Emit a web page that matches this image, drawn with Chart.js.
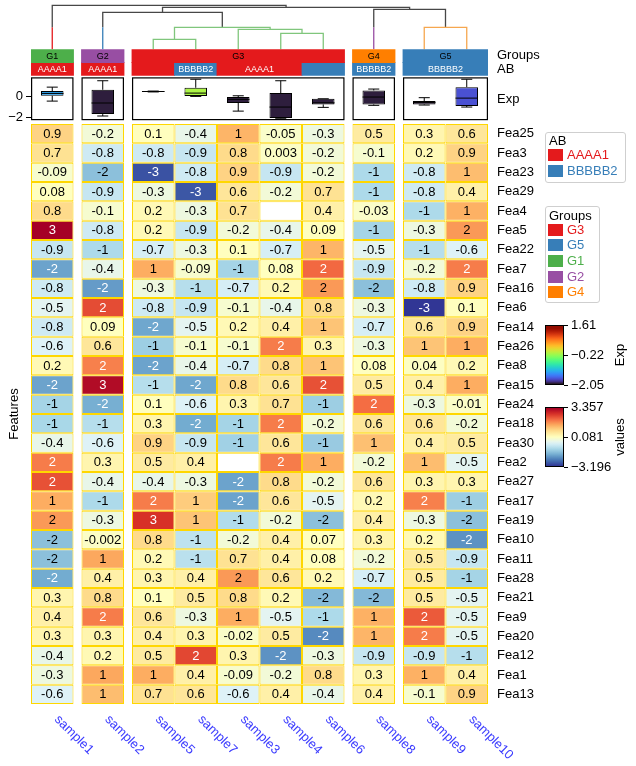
<!DOCTYPE html>
<html>
<head>
<meta charset="utf-8">
<title>Clustered heatmap</title>
<script src="https://cdn.jsdelivr.net/npm/chart.js@4.4.1/dist/chart.umd.min.js"></script>
<style>
html,body{margin:0;padding:0;background:#fff;}
#wrap{position:relative;width:636px;height:766px;overflow:hidden;font-family:"Liberation Sans",Arial,Helvetica,sans-serif;color:#000;}
#wrap canvas{position:absolute;left:0;top:0;}
.legend{position:absolute;border:1px solid #cfcfcf;border-radius:3px;background:#fff;box-sizing:border-box;}
.legend .ttl{position:absolute;left:3px;font-size:13px;line-height:14px;color:#000;white-space:nowrap;}
.legend .sw{position:absolute;left:2px;width:15px;height:12px;}
.legend .lab{position:absolute;left:21px;font-size:13px;line-height:14px;white-space:nowrap;}
.cbar{position:absolute;box-sizing:border-box;border:1px solid #000;}
.cbtick{position:absolute;width:4px;height:1px;background:#000;}
.cblab{position:absolute;font-size:13px;line-height:14px;white-space:nowrap;transform:translateY(-50%);}
.cbname{position:absolute;font-size:13px;line-height:14px;white-space:nowrap;transform:translate(-50%,-50%) rotate(-90deg);}
</style>
</head>
<body>
<div id="wrap">
<canvas id="dendro" width="636" height="766"></canvas>
<canvas id="annot" width="636" height="766"></canvas>
<canvas id="boxes" width="636" height="766"></canvas>
<canvas id="heat" width="636" height="766"></canvas>
</div>
<script>
// ---------------- DATA ----------------
const samples = ['sample1','sample2','sample5','sample7','sample3','sample4','sample6','sample8','sample9','sample10'];
const sampleGroups = ['G1','G2','G3','G3','G3','G3','G3','G4','G5','G5'];
const sampleAB = ['AAAA1','AAAA1','AAAA1','BBBBB2','AAAA1','AAAA1','BBBBB2','BBBBB2','BBBBB2','BBBBB2'];
const abUnlabeled = ['sample5','sample6'];
const groupOrder = ['G1','G2','G3','G4','G5'];
const groupLegendOrder = ['G3','G5','G1','G2','G4'];
const abLevels = ['AAAA1','BBBBB2'];

const features = ['Fea25','Fea3','Fea23','Fea29','Fea4','Fea5','Fea22','Fea7','Fea16','Fea6',
  'Fea14','Fea26','Fea8','Fea15','Fea24','Fea18','Fea30','Fea2','Fea27','Fea17',
  'Fea19','Fea10','Fea11','Fea28','Fea21','Fea9','Fea20','Fea12','Fea1','Fea13'];

// heatmap values, one array per sample (rows in feature order)
const valsSample1 = [0.9,0.7,-0.09,0.08,0.8,3.357,-0.9,-2.0,-0.8,-0.5,-0.8,-0.6,0.2,-2.0,-1.3,-1.25,-0.4,1.9,2.35,1.4,1.6,-1.6,-1.6,-1.9,0.3,0.4,0.3,-0.4,-0.3,-0.6];
const valsSample2 = [-0.2,-0.8,-1.6,-0.9,-0.1,-0.8,-1.2,-0.4,-2.1,2.4,0.09,0.6,1.85,3.2,-1.85,-1.1,-0.6,0.3,-0.4,-1.2,-0.3,-0.002,1.45,0.4,0.8,1.9,0.3,0.2,1.45,1.2];
const valsSample5 = [0.1,-0.8,-2.9,-0.3,0.2,0.2,-0.7,1.4,-0.3,-0.8,-1.95,-1.4,-2.0,-1.1,0.1,0.3,0.9,0.5,-0.4,1.9,2.7,0.8,0.2,0.3,0.1,0.6,0.4,0.5,1.4,0.7];
const valsSample7 = [-0.4,-0.9,-0.8,-2.85,-0.3,-0.9,-0.3,-0.09,-1.1,-0.9,-0.5,-0.1,-0.4,-1.95,-0.6,-1.9,-0.9,0.4,-0.3,1.0,1.1,-1.0,-1.05,0.4,0.5,-0.3,0.3,2.45,0.4,0.6];
const valsSample3 = [1.3,0.8,0.9,0.6,0.7,-0.2,0.1,-1.3,-0.7,-0.1,0.2,-0.1,-0.7,0.8,0.3,-1.3,-1.35,null,-2.0,-2.0,-1.15,-0.2,0.7,1.6,0.8,1.4,-0.02,0.3,-0.09,-0.6];
const valsSample4 = [-0.05,0.003,-0.9,-0.2,null,-0.4,-0.7,0.08,0.2,-0.4,0.4,1.9,0.8,0.6,0.7,1.9,0.6,1.9,0.8,0.6,-0.2,0.4,0.4,0.6,0.2,-0.5,0.5,-2.2,-0.2,0.4];
const valsSample6 = [-0.3,-0.2,-0.2,0.7,0.4,0.09,1.3,2.1,1.6,0.8,1.1,0.3,1.1,2.35,-1.4,-0.2,-1.45,1.4,-0.2,-0.5,-1.6,0.07,0.08,0.2,-1.7,-1.2,-2.3,-0.3,0.8,-0.4];
const valsSample8 = [0.5,-0.1,-1.2,-1.2,-0.03,-1.3,-0.5,-0.9,-1.6,-0.3,-0.7,-0.3,0.08,0.5,2.05,0.6,1.15,-0.2,0.6,0.2,0.4,0.3,-0.2,-0.7,-1.7,1.35,1.3,-0.9,0.3,0.4];
const valsSample9 = [0.3,0.2,-0.8,-0.8,-1.2,-0.3,-1.1,-0.2,-0.8,-3.196,0.6,1.1,0.04,0.4,-0.3,0.6,0.4,1.2,0.3,1.85,-0.3,0.2,0.5,0.5,0.5,2.25,1.9,-0.9,1.35,-0.1];
const valsSample10 = [0.6,0.9,1.2,0.4,1.35,1.6,-0.6,1.9,0.9,0.1,0.9,1.4,0.2,1.4,-0.01,-0.2,0.5,-0.5,0.3,-1.4,-1.6,-2.2,-0.9,-1.3,-0.5,-0.5,-0.5,-1.1,0.4,0.9];
const heatColumns = [valsSample1,valsSample2,valsSample5,valsSample7,valsSample3,valsSample4,valsSample6,valsSample8,valsSample9,valsSample10];

// Exp boxplot annotation (per sample)
const expMin = [-0.44,-1.84,0.42,0.0,-1.38,-2.05,-1.03,-0.84,-0.81,-1.0];
const expQ1  = [0.06,-1.66,0.42,0.03,-0.62,-2.02,-0.75,-0.75,-0.75,-0.9];
const expMed = [0.28,-0.62,0.46,0.31,-0.28,-1.0,-0.6,-0.06,-0.56,-0.16];
const expQ3  = [0.5,0.62,0.5,0.81,-0.06,0.31,-0.22,0.56,-0.44,0.87];
const expMax = [0.87,1.47,0.5,1.61,0.06,1.47,-0.22,0.69,-0.12,1.61];
const expColorValue = [-1.28,-2.01,-2.01,-0.12,-2.01,-2.01,-2.01,-2.01,-2.01,-1.72];
const expTicks = [-2, 0];

// dendrogram merges: [childA, childB, height]; ids 0-9 are leaves, 10+ merges in order
const dendroMerges = [[2,3,1.0],[5,6,1.6],[4,11,2.0],[10,12,2.2],[8,9,2.2],[1,13,3.7],[7,14,4.0],[15,16,4.2],[0,17,4.4]];
const groupDendroTop = 2.2;

// ---------------- STYLE ----------------
const FONT = '"Liberation Sans", Arial, Helvetica, sans-serif';
const groupColors = {G1:'#4daf4a',G2:'#984ea3',G3:'#e41a1c',G4:'#ff7f00',G5:'#377eb8'};
const abColors = {AAAA1:'#e41a1c',BBBBB2:'#377eb8'};
const dendroColors = {G1:'#e41a1c',G2:'#377eb8',G3:'#80c67c',G4:'#984ea3',G5:'#f6a74f'};
const linkGray = '#474747';
const gridGold = '#ffd700';
const colGap = 0.188;
const AREA = {left:31, right:488, W:636, H:766};

Chart.defaults.font.family = FONT;
Chart.defaults.font.size = 13;
Chart.defaults.color = '#000';
Chart.defaults.animation = false;
Chart.defaults.plugins.legend.display = false;
Chart.defaults.plugins.tooltip.enabled = false;

// ---------------- helpers ----------------
const colLeft = samples.map((s,i)=> i + groupOrder.indexOf(sampleGroups[i]) * colGap);
const colCenter = colLeft.map(v => v + 0.5);
const xMax = samples.length + (groupOrder.length - 1) * colGap;

function hexToRgb(h){ h=h.replace('#',''); return [parseInt(h.substr(0,2),16),parseInt(h.substr(2,2),16),parseInt(h.substr(4,2),16)]; }
const rdylbuStops = ['#313695','#4575b4','#74add1','#abd9e9','#e0f3f8','#ffffbf','#fee090','#fdae61','#f46d43','#d73027','#a50026'].map(hexToRgb);
function clamp01(t){ return Math.max(0, Math.min(1, t)); }
function rdylbuR(t){
  t = clamp01(t); const p = t*10; const i = Math.min(9, Math.floor(p)); const f = p - i;
  const a = rdylbuStops[i], b = rdylbuStops[i+1];
  return [0,1,2].map(k => Math.round(a[k] + (b[k]-a[k])*f));
}
function turbo(t){
  t = clamp01(t);
  const r = 0.13572138 + t*(4.61539260 + t*(-42.66032258 + t*(132.13108234 + t*(-152.94239396 + t*59.28637943))));
  const g = 0.09140261 + t*(2.19418839 + t*(4.84296658 + t*(-14.18503333 + t*(4.27729857 + t*2.82956604))));
  const b = 0.10667330 + t*(12.64194608 + t*(-60.58204836 + t*(110.36276771 + t*(-89.90310912 + t*27.34824973))));
  return [r,g,b].map(v => Math.round(clamp01(v)*255));
}
const rgbStr = c => `rgb(${c[0]},${c[1]},${c[2]})`;

const allVals = heatColumns.flat().filter(v => v !== null);
const vMin = Math.min(...allVals), vMax = Math.max(...allVals);
const heatRgb = v => rdylbuR((v - vMin) / (vMax - vMin));
const expLo = Math.min(...expMin), expHi = Math.max(...expMax);
const expRgb = v => turbo((v - expLo) / (expHi - expLo));
const fmtCell = v => Number(v).toPrecision(1);
const textColorFor = v => { const c = heatRgb(v); return (0.299*c[0]+0.587*c[1]+0.114*c[2]) < 168 ? '#ffffff' : '#000000'; };
const minus = s => s.replace('-', '\u2212');

function runsOf(values){
  const out = [];
  samples.forEach((s,i) => {
    const last = out[out.length-1];
    if (last && last.value === values[i] && sampleGroups[last.end] === sampleGroups[i]) last.end = i;
    else out.push({value: values[i], start: i, end: i});
  });
  return out;
}
const groupRuns = runsOf(sampleGroups);
const abRuns = runsOf(sampleAB);

// ---------------- Dendrogram ----------------
const nodes = samples.map((s,i) => ({x: colCenter[i], h: 0, leaves: [i]}));
dendroMerges.forEach(([a,b,h]) => nodes.push({x:(nodes[a].x+nodes[b].x)/2, h, leaves: nodes[a].leaves.concat(nodes[b].leaves), a, b}));
const nodeGroup = n => { const g = sampleGroups[n.leaves[0]]; return n.leaves.every(l => sampleGroups[l] === g) ? g : null; };
const segs = {};
const addPts = (color, pts) => { (segs[color] = segs[color] || []).push(...pts, {x:null, y:null}); };
nodes.forEach(n => {
  if (n.a === undefined) return;
  const g = nodeGroup(n);
  const color = g ? dendroColors[g] : linkGray;
  const ends = [n.a, n.b].map(ci => {
    const c = nodes[ci];
    if (!g && c.a === undefined) {
      addPts(dendroColors[sampleGroups[c.leaves[0]]], [{x:c.x, y:0},{x:c.x, y:groupDendroTop}]);
      return {x:c.x, y:groupDendroTop};
    }
    return {x:c.x, y:c.h};
  });
  addPts(color, [ends[0], {x:ends[0].x, y:n.h}, {x:ends[1].x, y:n.h}, ends[1]]);
});
const rootH = Math.max(...dendroMerges.map(m => m[2]));
new Chart(document.getElementById('dendro'), {
  type: 'scatter',
  data: { datasets: Object.keys(segs).map(c => ({data: segs[c], showLine: true, borderColor: c, borderWidth: 1.3, pointRadius: 0, clip: false, spanGaps: false, borderJoinStyle: 'miter'})) },
  options: {
    responsive: false,
    layout: {padding: {left: AREA.left, right: AREA.W - AREA.right, top: 5.3, bottom: AREA.H - 49.3}},
    scales: {
      x: {type: 'linear', min: 0, max: xMax, display: false},
      y: {type: 'linear', min: 0, max: rootH, display: false}
    }
  }
});

// ---------------- Annotation rows ----------------
const annotText = {
  id: 'annotText',
  afterDatasetsDraw(chart){
    const ctx = chart.ctx; ctx.save();
    ctx.font = '9px ' + FONT; ctx.textAlign = 'center'; ctx.textBaseline = 'middle';
    chart.data.datasets.forEach((ds, di) => {
      chart.getDatasetMeta(di).data.forEach((el, i) => {
        const t = ds.texts[i]; if (!t) return;
        const p = el.getProps(['x','y','base'], true);
        ctx.fillStyle = ds.textColor;
        ctx.fillText(t, (p.x + p.base)/2, p.y + 0.5);
      });
    });
    ctx.restore();
  }
};
const rightAxis = {
  type: 'category', position: 'right', offset: true,
  grid: {display: false, drawTicks: false}, border: {display: false},
  ticks: {padding: 9, color: '#000', font: {size: 13}, autoSkip: false},
  afterFit(s){ s.width = AREA.W - AREA.right; }
};
new Chart(document.getElementById('annot'), {
  type: 'bar',
  data: {
    labels: ['Groups','AB'],
    datasets: [
      {data: groupRuns.map(r => ({y:'Groups', x:[colLeft[r.start], colLeft[r.end]+1]})),
       backgroundColor: groupRuns.map(r => groupColors[r.value]), texts: groupRuns.map(r => r.value), textColor: '#000',
       grouped: false, barPercentage: 1, categoryPercentage: 1, borderWidth: 0, inflateAmount: 0.4},
      {data: abRuns.map(r => ({y:'AB', x:[colLeft[r.start], colLeft[r.end]+1]})),
       backgroundColor: abRuns.map(r => abColors[r.value]), texts: abRuns.map(r => abUnlabeled.includes(samples[r.start]) ? '' : r.value), textColor: '#fff',
       grouped: false, barPercentage: 1, categoryPercentage: 1, borderWidth: 0, inflateAmount: 0.4}
    ]
  },
  options: {
    indexAxis: 'y', responsive: false,
    layout: {padding: {left: AREA.left, right: 0, top: 49.3, bottom: AREA.H - 75.7}},
    scales: { x: {type: 'linear', min: 0, max: xMax, display: false, offset: false}, y: rightAxis }
  },
  plugins: [annotText]
});

// ---------------- Exp boxplots ----------------
const capHalf = 0.13, boxHalf = 0.265;
const whiskerPts = [], medianPts = [];
samples.forEach((s,i) => {
  const c = colCenter[i], N = {x:null, y:null};
  whiskerPts.push({x:c,y:expMin[i]},{x:c,y:expQ1[i]},N,{x:c,y:expQ3[i]},{x:c,y:expMax[i]},N,
    {x:c-capHalf,y:expMin[i]},{x:c+capHalf,y:expMin[i]},N,{x:c-capHalf,y:expMax[i]},{x:c+capHalf,y:expMax[i]},N);
  medianPts.push({x:c-boxHalf,y:expMed[i]},{x:c+boxHalf,y:expMed[i]},N);
});
const expSpan = expHi - expLo;
const boxFrames = {
  id: 'boxFrames',
  afterDraw(chart){
    const ctx = chart.ctx, xs = chart.scales.x, a = chart.chartArea;
    ctx.save(); ctx.strokeStyle = '#000'; ctx.lineWidth = 1.2;
    groupRuns.forEach(r => {
      const x0 = xs.getPixelForValue(colLeft[r.start]), x1 = xs.getPixelForValue(colLeft[r.end] + 1);
      ctx.strokeRect(x0 + 0.6, a.top + 0.6, x1 - x0 - 1.2, a.bottom - a.top - 1.2);
    });
    ctx.font = '13px ' + FONT; ctx.fillStyle = '#000'; ctx.textAlign = 'left'; ctx.textBaseline = 'middle';
    ctx.fillText('Exp', a.right + 9, (a.top + a.bottom)/2 + 1);
    ctx.restore();
  }
};
new Chart(document.getElementById('boxes'), {
  type: 'bar',
  data: { datasets: [
    {type: 'line', data: medianPts, borderColor: '#000', borderWidth: 1, pointRadius: 0, order: 0, clip: false, spanGaps: false},
    {type: 'bar', data: samples.map((s,i) => ({x: colCenter[i], y: [expQ1[i], expQ3[i]]})),
     backgroundColor: expColorValue.map(v => rgbStr(expRgb(v))), borderColor: '#000', borderWidth: 1, borderSkipped: false,
     barPercentage: boxHalf*2, categoryPercentage: 1, order: 1},
    {type: 'line', data: whiskerPts, borderColor: '#000', borderWidth: 1, pointRadius: 0, order: 2, clip: false, spanGaps: false}
  ]},
  options: {
    responsive: false,
    layout: {padding: {left: 0, right: AREA.W - AREA.right, top: 77.3, bottom: AREA.H - 120.2}},
    scales: {
      x: {type: 'linear', min: 0, max: xMax, display: false, offset: false,
          afterBuildTicks(a){ a.ticks = colCenter.map(v => ({value: v})); }},
      y: {type: 'linear', position: 'left', min: expLo - 0.05*expSpan, max: expHi + 0.05*expSpan,
          afterBuildTicks(a){ a.ticks = expTicks.map(v => ({value: v})); },
          ticks: {padding: 3, color: '#000', font: {size: 13}, callback: v => minus(String(v))},
          grid: {drawOnChartArea: false, drawTicks: true, tickLength: 5, color: '#000', lineWidth: 1},
          border: {display: false},
          afterFit(s){ s.width = AREA.left; }}
    }
  },
  plugins: [boxFrames]
});

// ---------------- Heatmap ----------------
const heatExtras = {
  id: 'heatExtras',
  afterDatasetsDraw(chart){
    const ctx = chart.ctx; ctx.save();
    ctx.font = '13px ' + FONT; ctx.textAlign = 'center'; ctx.textBaseline = 'middle';
    chart.data.datasets.forEach((ds, di) => {
      chart.getDatasetMeta(di).data.forEach((el, ri) => {
        const v = ds.values[ri]; if (v === null) return;
        const p = el.getProps(['x','y','base'], true);
        ctx.fillStyle = textColorFor(v);
        ctx.fillText(fmtCell(v), (p.x + p.base)/2, p.y + 0.5);
      });
    });
    ctx.restore();
  },
  afterDraw(chart){
    const ctx = chart.ctx, xs = chart.scales.x, a = chart.chartArea;
    ctx.save();
    ctx.font = '13px ' + FONT; ctx.fillStyle = '#3b3bff'; ctx.textAlign = 'left'; ctx.textBaseline = 'middle';
    samples.forEach((s,i) => {
      ctx.save(); ctx.translate(xs.getPixelForValue(colCenter[i]) + 4.3, a.bottom + 13.5); ctx.rotate(Math.PI/4);
      ctx.fillText(s, 0, 0); ctx.restore();
    });
    ctx.fillStyle = '#000'; ctx.textAlign = 'center';
    ctx.translate(14, (a.top + a.bottom)/2); ctx.rotate(-Math.PI/2); ctx.fillText('Features', 0, 0);
    ctx.restore();
  }
};
new Chart(document.getElementById('heat'), {
  type: 'bar',
  data: {
    labels: features,
    datasets: samples.map((s, ci) => ({
      label: s, values: heatColumns[ci],
      data: features.map(() => [colLeft[ci], colLeft[ci] + 1]),
      backgroundColor: heatColumns[ci].map(v => v === null ? '#ffffff' : rgbStr(heatRgb(v))),
      borderColor: gridGold, borderWidth: 1, borderSkipped: false, inflateAmount: 0,
      grouped: false, barPercentage: 1, categoryPercentage: 1
    }))
  },
  options: {
    indexAxis: 'y', responsive: false,
    layout: {padding: {left: AREA.left, right: 0, top: 124, bottom: AREA.H - 704}},
    scales: { x: {type: 'linear', min: 0, max: xMax, display: false, offset: false}, y: rightAxis }
  },
  plugins: [heatExtras]
});

// ---------------- Legends & colorbars (HTML) ----------------
const wrap = document.getElementById('wrap');
function el(cls, css, text){ const d = document.createElement('div'); d.className = cls; Object.assign(d.style, css); if (text !== undefined) d.textContent = text; return d; }
function legend(title, items, colors, box){
  const L = el('legend', {left: box.left+'px', top: box.top+'px', width: box.width+'px', height: box.height+'px'});
  L.appendChild(el('ttl', {top: box.titleTop+'px'}, title));
  items.forEach((it, k) => {
    const y = box.firstTop + k*box.step;
    L.appendChild(el('sw', {top: y+'px', background: colors[it]}));
    L.appendChild(el('lab', {top: (y-1)+'px', color: colors[it]}, it));
  });
  wrap.appendChild(L);
}
legend('AB', abLevels, abColors, {left: 545, top: 132, width: 81, height: 51, titleTop: 1, firstTop: 16, step: 16});
legend('Groups', groupLegendOrder, groupColors, {left: 545, top: 206, width: 55, height: 97, titleTop: 2, firstTop: 16.5, step: 15.7});

function colorbar(name, lo, hi, cmap, ticks, box){
  const stops = [];
  for (let k = 0; k <= 24; k++){ const t = k/24; stops.push(`${rgbStr(cmap(t))} ${(t*100).toFixed(1)}%`); }
  wrap.appendChild(el('cbar', {left: box.left+'px', top: box.top+'px', width: box.width+'px', height: box.height+'px', background: `linear-gradient(to top, ${stops.join(',')})`}));
  ticks.forEach(tk => {
    const y = box.top + box.height - (tk.v - lo)/(hi - lo) * box.height;
    wrap.appendChild(el('cbtick', {left: (box.left + box.width)+'px', top: (y - 0.5)+'px'}));
    wrap.appendChild(el('cblab', {left: (box.left + box.width + 7)+'px', top: y+'px'}, tk.label));
  });
  wrap.appendChild(el('cbname', {left: box.nameX+'px', top: (box.top + box.height/2)+'px'}, name));
}
const expMid = (expLo + expHi)/2, vMid = (vMin + vMax)/2;
colorbar('Exp', expLo, expHi, turbo,
  [{v: expHi, label: minus(expHi.toFixed(2))}, {v: expMid, label: minus((expMid - 1e-9).toFixed(2))}, {v: expLo, label: minus(expLo.toFixed(2))}],
  {left: 545, top: 325, width: 19, height: 60, nameX: 620});
colorbar('values', vMin, vMax, rdylbuR,
  [{v: vMax, label: minus(vMax.toFixed(3))}, {v: vMid, label: minus((vMid + 1e-9).toFixed(3))}, {v: vMin, label: minus(vMin.toFixed(3))}],
  {left: 545, top: 407, width: 19, height: 60, nameX: 620});
</script>
</body>
</html>
